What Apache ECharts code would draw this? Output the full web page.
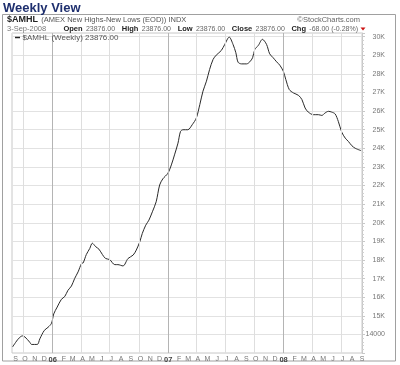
<!DOCTYPE html>
<html><head><meta charset="utf-8">
<script src="https://cdn.jsdelivr.net/npm/echarts@6/dist/echarts.min.js"></script>
<style>html,body{margin:0;padding:0;background:#fff}#c{width:400px;height:365px}</style>
</head><body><div id="c"></div>
<script>
// ---- data ----
const dates = ['2005-08-28','2005-09-15','2005-09-28','2005-10-06','2005-10-21','2005-10-27','2005-11-14','2005-11-22','2005-12-06','2005-12-18','2005-12-29',
'2006-01-05','2006-01-16','2006-01-29','2006-02-09','2006-02-19','2006-03-02','2006-03-12','2006-03-23','2006-04-03','2006-04-08','2006-04-18','2006-04-29',
'2006-05-07','2006-05-18','2006-05-28','2006-06-08','2006-06-18','2006-07-01','2006-07-17','2006-07-27','2006-08-12','2006-08-28','2006-09-13','2006-09-23',
'2006-10-04','2006-10-12','2006-10-23','2006-11-02','2006-11-13','2006-11-25','2006-12-06','2006-12-16',
'2007-01-01','2007-01-12','2007-01-22','2007-02-02','2007-02-10','2007-02-18','2007-03-05','2007-03-19','2007-04-01','2007-04-12','2007-04-22',
'2007-05-03','2007-05-13','2007-05-24','2007-06-03','2007-06-19','2007-06-30','2007-07-14','2007-07-26','2007-08-04','2007-08-11','2007-08-22',
'2007-09-07','2007-09-17','2007-09-26','2007-10-03','2007-10-14','2007-10-27','2007-11-09','2007-11-19','2007-11-30','2007-12-11','2007-12-21',
'2008-01-01','2008-01-09','2008-01-20','2008-02-02','2008-02-18','2008-02-29','2008-03-10','2008-03-20','2008-04-05','2008-04-21','2008-05-02',
'2008-05-12','2008-05-23','2008-06-02','2008-06-13','2008-06-23','2008-07-04','2008-07-15','2008-07-25','2008-08-05','2008-08-15','2008-09-03'];
const values = [13330,13760,13920,13860,13580,13460,13460,13760,14210,14380,14600,
15100,15470,15880,16040,16370,16600,17000,17360,17810,17840,18290,18620,
18900,18710,18580,18290,18080,18020,17750,17750,17680,18080,18260,18530,
18970,19420,19870,20140,20590,21130,22030,22360,
22660,23110,23650,24280,24910,25000,25000,25270,25630,26350,27070,
27610,28240,28780,29010,29260,29590,29980,29590,29140,28630,28540,
28540,28650,28870,29320,29530,29860,29590,29080,28870,28650,28470,
28150,27700,27160,26980,26850,26620,26170,25950,25810,25810,25770,
25900,25990,25950,25850,25450,24870,24550,24370,24140,24010,23876];
const monthLabels = ['S','O','N','D','06','F','M','A','M','J','J','A','S','O','N','D','07','F','M','A','M','J','J','A','S','O','N','D','08','F','M','A','M','J','J','A','S'];
const firstLabelYear = 2005, firstLabelMonth = 8; // September 2005
const gridDates = ['2005-10-01','2006-01-01','2006-04-01','2006-07-01','2006-10-01','2007-01-01','2007-04-01','2007-07-01','2007-10-01','2008-01-01','2008-04-01','2008-07-01'];
const yTickValues = [14000,15000,16000,17000,18000,19000,20000,21000,22000,23000,24000,25000,26000,27000,28000,29000,30000];
const yTickLabels = ['14000','15K','16K','17K','18K','19K','20K','21K','22K','23K','24K','25K','26K','27K','28K','29K','30K'];

// ---- chart ----
const FONT = "'Liberation Sans', Arial, sans-serif";
const DAY = 86400000;
const toTs = (s) => { const p = s.split('-').map(Number); return new Date(p[0], p[1] - 1, p[2]).getTime(); };
const chart = echarts.init(document.getElementById('c'));
const labelPos = [];
const labelMap = {};
monthLabels.forEach((t, i) => {
  const y = firstLabelYear + Math.floor((firstLabelMonth + i) / 12);
  const m = (firstLabelMonth + i) % 12;
  const ts = new Date(y, m, 1).getTime() + (m === 0 ? 1 : 5) * DAY;
  labelPos.push(ts);
  labelMap[ts] = t;
});
const yLabelMap = {};
yTickValues.forEach((v, i) => yLabelMap[v] = yTickLabels[i]);

chart.setOption({
  animation: false,
  backgroundColor: '#fff',
  textStyle: { fontFamily: FONT },
  grid: { left: 12, right: 38, top: 33, bottom: 12, show: true, borderColor: '#c8c8c8', borderWidth: 1 },
  xAxis: {
    type: 'value',
    min: toTs('2005-08-26'),
    max: toTs('2008-09-06'),
    axisLine: { show: false },
    axisTick: { show: false },
    splitLine: { show: false },
    axisLabel: {
      customValues: labelPos,
      showMinLabel: true, showMaxLabel: true,
      margin: 2,
      fontSize: 7,
      lineHeight: 9,
      color: '#777',
      hideOverlap: false,
      formatter: (v) => {
        const t = labelMap[v];
        if (t === undefined) return '';
        return /\d/.test(t) ? '{y|' + t + '}' : t;
      },
      rich: { y: { fontSize: 7.5, lineHeight: 9, fontWeight: 'bold', color: '#444', fontFamily: FONT } }
    }
  },
  yAxis: {
    type: 'value',
    position: 'right',
    min: 13000, max: 30200, interval: 1000,
    axisLine: { show: true, lineStyle: { color: '#c8c8c8' } },
    axisTick: { show: true, length: 3, lineStyle: { color: '#c8c8c8' } },
    minorTick: { show: true, splitNumber: 5, length: 2, lineStyle: { color: '#d0d0d0' } },
    splitLine: { show: true, lineStyle: { color: '#e2e2e2' } },
    axisLabel: {
      align: 'right', margin: 23, fontSize: 7, color: '#777',
      formatter: (v) => yLabelMap[v] || ''
    }
  },
  series: [
    {
      type: 'line', data: [], z: 1, silent: true,
      markLine: {
        silent: true, symbol: ['none', 'none'], label: { show: false },
        data: gridDates.map(d => ({ xAxis: toTs(d), lineStyle: { color: d.endsWith('01-01') ? '#b4b4b4' : '#dedede', width: 1, type: 'solid' } }))
      }
    },
    {
      type: 'line', z: 3,
      data: dates.map((d, i) => [toTs(d), values[i]]),
      showSymbol: false, smooth: 0.3,
      lineStyle: { color: '#2a2a2a', width: 1 }
    }
  ],
  graphic: [
    { type: 'text', z: 10, style: { x: 3, y: 8, text: 'Weekly View', font: 'bold 13px ' + FONT, fill: '#1e2f6e', verticalAlign: 'middle' } },
    { type: 'rect', z: 0, shape: { x: 2.5, y: 14.5, width: 393, height: 346.5 }, style: { fill: 'none', stroke: '#a0a0a0', lineWidth: 1 } },
    { type: 'text', z: 10, style: { x: 7, y: 19.5, verticalAlign: 'middle',
        text: '{b|$AMHL} {n|(AMEX New Highs-New Lows (EOD)) INDX}',
        rich: { b: { font: 'bold 9px ' + FONT, fill: '#222' }, n: { font: '7.5px ' + FONT, fill: '#555' } } } },
    { type: 'text', z: 10, style: { x: 360, y: 19.5, align: 'right', verticalAlign: 'middle', text: '\u00A9StockCharts.com', font: '7.5px ' + FONT, fill: '#666' } },
    { type: 'text', z: 10, style: { x: 7, y: 29, verticalAlign: 'middle', text: '3-Sep-2008', font: '7.5px ' + FONT, fill: '#777' } },
    { type: 'text', z: 10, style: { x: 358, y: 29, align: 'right', verticalAlign: 'middle',
        text: '{b|Open} {n|23876.00}  {b|High} {n|23876.00}  {b|Low} {n|23876.00}  {b|Close} {n|23876.00}  {b|Chg} {n|-68.00 (-0.28%)}',
        rich: { b: { font: 'bold 7.5px ' + FONT, fill: '#222' }, n: { font: '7px ' + FONT, fill: '#666' } } } },
    { type: 'polygon', z: 10, shape: { points: [[360.5, 27.5], [365.5, 27.5], [363, 30.5]] }, style: { fill: '#cc1111' } },
    { type: 'line', z: 10, shape: { x1: 15, y1: 37.5, x2: 20, y2: 37.5 }, style: { stroke: '#222', lineWidth: 1.5 } },
    { type: 'text', z: 10, style: { x: 22.5, y: 37.5, verticalAlign: 'middle', text: '$AMHL (Weekly) 23876.00', font: '8px ' + FONT, fill: '#555' } }
  ]
});
</script></body></html>
